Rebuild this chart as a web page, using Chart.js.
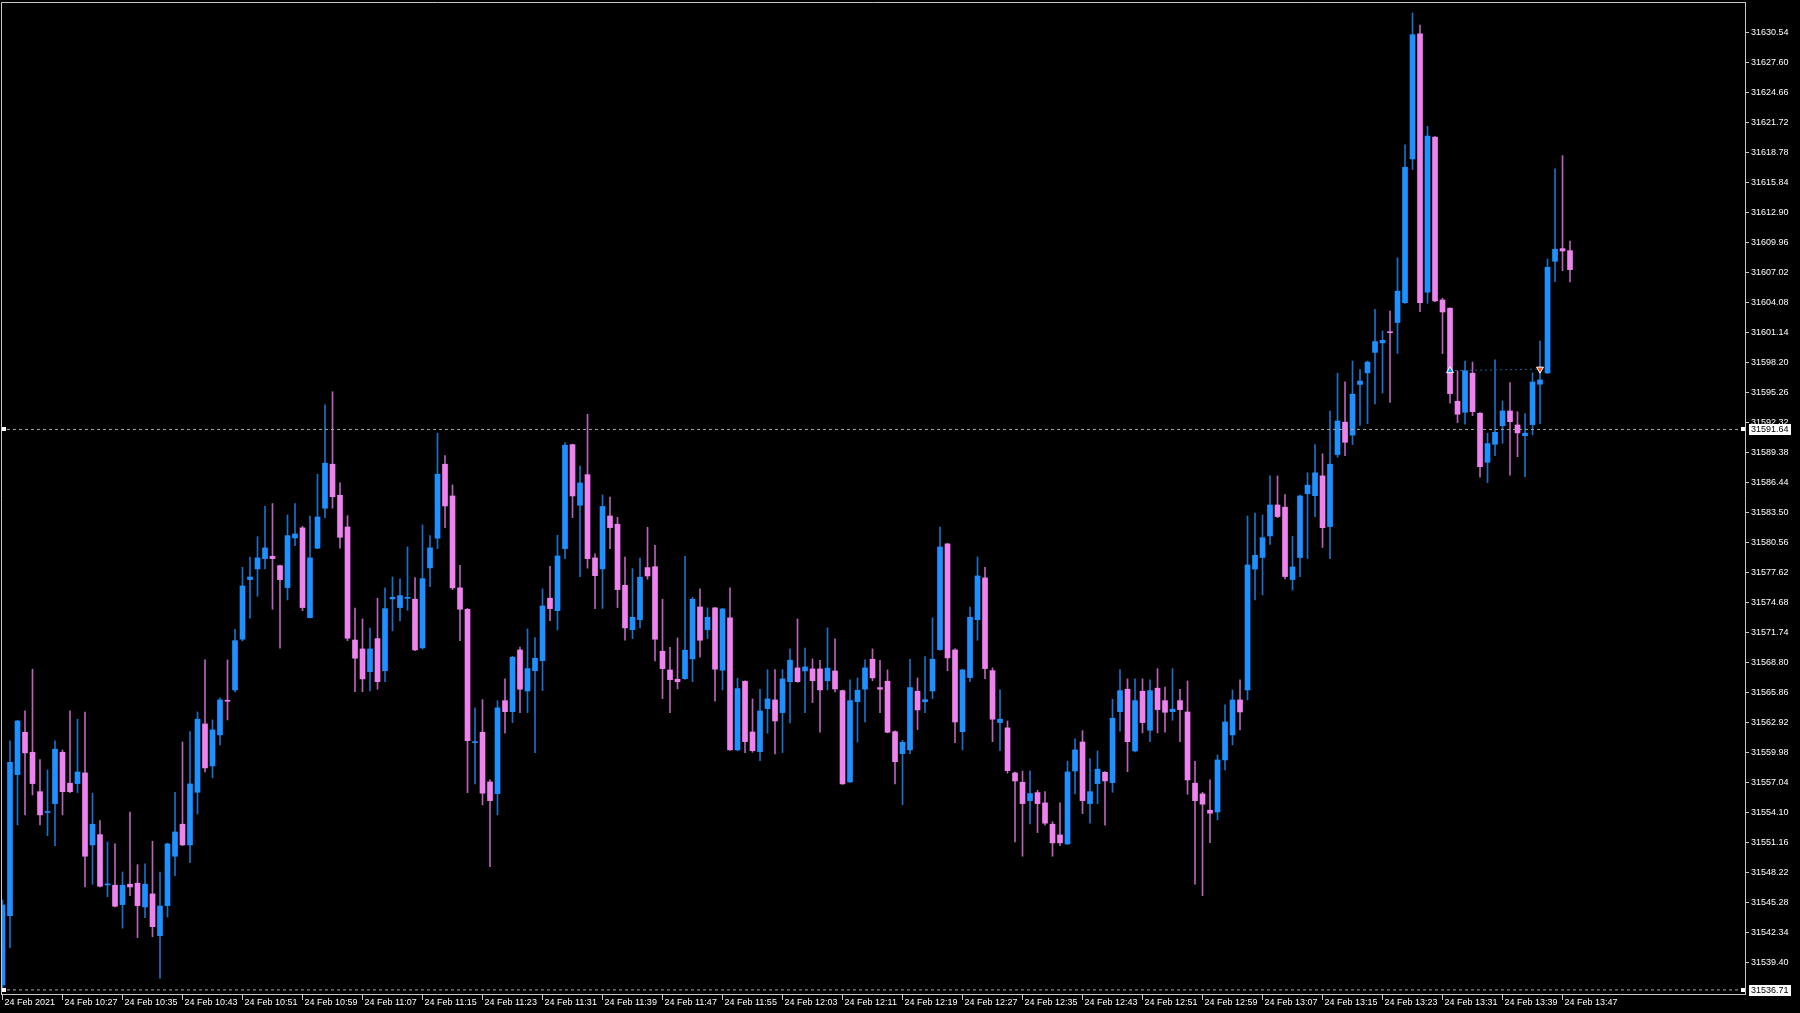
<!DOCTYPE html>
<html>
<head>
<meta charset="utf-8">
<script src="https://cdn.jsdelivr.net/npm/chart.js@4.4.1/dist/chart.umd.min.js"></script>
<style>
html, body { margin: 0; padding: 0; background: #000; overflow: hidden; }
</style>
</head>
<body>
<canvas id="chart" width="1800" height="1013"></canvas>
<script>
// 1-minute bars, 24 Feb 10:19 .. 13:48
const timeLabels = ['24 Feb 2021', '24 Feb 10:27', '24 Feb 10:35', '24 Feb 10:43', '24 Feb 10:51', '24 Feb 10:59',
    '24 Feb 11:07', '24 Feb 11:15', '24 Feb 11:23', '24 Feb 11:31', '24 Feb 11:39', '24 Feb 11:47', '24 Feb 11:55',
    '24 Feb 12:03', '24 Feb 12:11', '24 Feb 12:19', '24 Feb 12:27', '24 Feb 12:35', '24 Feb 12:43', '24 Feb 12:51',
    '24 Feb 12:59', '24 Feb 13:07', '24 Feb 13:15', '24 Feb 13:23', '24 Feb 13:31', '24 Feb 13:39', '24 Feb 13:47'];

const priceTicks = [31539.40, 31542.34, 31545.28, 31548.22, 31551.16, 31554.10, 31557.04, 31559.98, 31562.92,
    31565.86, 31568.80, 31571.74, 31574.68, 31577.62, 31580.56, 31583.50, 31586.44, 31589.38, 31592.32, 31595.26,
    31598.20, 31601.14, 31604.08, 31607.02, 31609.96, 31612.90, 31615.84, 31618.78, 31621.72, 31624.66, 31627.60, 31630.54];

const opens = [
    31537.20, 31543.99, 31557.81, 31561.96, 31560.00, 31556.14, 31554.10, 31554.97, 31560.00, 31556.97,
    31556.93, 31557.98, 31550.92, 31551.93, 31547.00, 31546.97, 31545.07, 31547.07, 31547.17, 31544.84,
    31546.12, 31542.03, 31544.97, 31549.81, 31552.95, 31550.92, 31556.08, 31562.78, 31558.66, 31561.70,
    31565.05, 31566.11, 31571.08, 31576.92, 31577.97, 31578.98, 31579.21, 31578.29, 31576.14, 31581.01,
    31581.99, 31573.20, 31580.00, 31583.92, 31588.23, 31585.19, 31582.08, 31571.00, 31570.13, 31567.90,
    31571.14, 31568.00, 31575.03, 31574.18, 31575.08, 31575.00, 31570.23, 31578.07, 31580.98, 31588.23,
    31585.12, 31576.11, 31574.02, 31560.95, 31561.96, 31557.09, 31555.95, 31565.06, 31563.98, 31570.03,
    31566.01, 31568.00, 31568.98, 31575.10, 31573.88, 31579.96, 31590.15, 31584.21, 31587.21, 31579.05,
    31577.97, 31583.16, 31582.35, 31576.37, 31572.02, 31573.00, 31578.10, 31578.19, 31569.90, 31568.07,
    31567.16, 31567.22, 31569.15, 31574.24, 31572.02, 31574.15, 31568.04, 31573.17, 31560.23, 31566.96,
    31561.99, 31560.06, 31564.28, 31565.13, 31563.89, 31566.92, 31568.27, 31567.97, 31568.17, 31568.17,
    31567.02, 31567.97, 31566.04, 31557.09, 31564.96, 31566.18, 31569.12, 31566.34, 31566.96, 31562.02,
    31559.87, 31560.23, 31565.98, 31564.96, 31566.01, 31570.06, 31580.42, 31570.03, 31562.02, 31567.32,
    31573.00, 31577.09, 31568.00, 31562.91, 31562.39, 31557.98, 31557.06, 31555.26, 31556.05, 31555.04,
    31552.95, 31551.90, 31551.02, 31558.17, 31561.01, 31554.97, 31556.93, 31558.04, 31557.03, 31563.98,
    31566.18, 31560.13, 31565.98, 31562.16, 31566.28, 31565.06, 31563.98, 31565.06, 31563.95, 31556.97,
    31555.92, 31554.32, 31554.15, 31559.25, 31561.70, 31565.13, 31566.11, 31577.95, 31579.09, 31581.20,
    31584.24, 31584.02, 31576.93, 31579.09, 31585.34, 31585.15, 31587.09, 31582.12, 31589.18, 31592.35,
    31591.08, 31596.05, 31597.19, 31599.19, 31600.12, 31601.20, 31602.12, 31604.07, 31618.15, 31630.40,
    31605.08, 31620.30, 31604.33, 31603.52, 31594.40, 31593.32, 31597.15, 31593.23, 31588.42, 31590.19,
    31592.01, 31593.45, 31592.08, 31591.03, 31592.11, 31596.07, 31597.18, 31608.12, 31609.36, 31609.16];

const highs = [
    31545.53, 31561.11, 31563.14, 31564.05, 31568.14, 31559.28, 31558.27, 31561.11, 31560.23, 31564.05,
    31563.24, 31563.95, 31555.99, 31553.30, 31551.21, 31551.02, 31548.27, 31554.15, 31548.99, 31549.06,
    31551.28, 31548.27, 31551.10, 31556.08, 31561.01, 31562.02, 31563.95, 31569.05, 31563.17, 31565.33,
    31569.05, 31572.06, 31578.13, 31579.14, 31581.13, 31584.11, 31584.37, 31578.35, 31583.26, 31584.37,
    31582.15, 31583.16, 31587.25, 31594.04, 31595.34, 31586.40, 31583.19, 31574.12, 31573.07, 31572.16,
    31575.10, 31576.11, 31577.18, 31576.99, 31580.12, 31577.12, 31582.28, 31581.23, 31591.27, 31589.07,
    31586.20, 31578.33, 31574.10, 31564.35, 31565.16, 31557.29, 31565.06, 31567.19, 31569.40, 31570.32,
    31572.09, 31571.24, 31576.01, 31578.23, 31581.27, 31590.35, 31590.20, 31588.06, 31593.13, 31579.44,
    31585.22, 31585.02, 31583.03, 31579.14, 31578.00, 31579.02, 31582.05, 31580.29, 31575.00, 31570.29,
    31571.21, 31579.21, 31575.19, 31576.01, 31574.15, 31574.20, 31574.10, 31576.11, 31567.26, 31567.00,
    31565.23, 31566.18, 31568.10, 31568.10, 31568.10, 31570.13, 31573.07, 31570.20, 31569.15, 31569.02,
    31572.19, 31571.11, 31566.10, 31567.09, 31567.29, 31569.05, 31570.13, 31569.02, 31568.07, 31562.10,
    31561.18, 31569.12, 31567.29, 31569.37, 31573.17, 31582.08, 31580.50, 31570.13, 31568.15, 31574.24,
    31579.14, 31578.13, 31568.27, 31566.11, 31563.07, 31558.07, 31558.17, 31558.17, 31556.28, 31556.14,
    31553.20, 31555.04, 31559.12, 31561.31, 31562.12, 31559.38, 31560.13, 31558.10, 31565.20, 31568.10,
    31567.19, 31567.19, 31567.19, 31567.09, 31568.20, 31566.40, 31568.20, 31566.18, 31566.99, 31559.12,
    31556.08, 31557.29, 31559.74, 31564.64, 31566.11, 31567.09, 31583.16, 31583.44, 31583.25, 31587.09,
    31587.09, 31585.26, 31581.17, 31585.20, 31587.39, 31590.16, 31589.25, 31593.45, 31597.15, 31596.30,
    31598.35, 31597.51, 31598.35, 31603.40, 31601.28, 31603.25, 31608.45, 31619.52, 31632.46, 31631.28,
    31621.35, 31620.35, 31604.50, 31603.55, 31597.37, 31598.35, 31598.25, 31593.30, 31591.27, 31598.45,
    31594.43, 31596.23, 31593.38, 31593.19, 31597.18, 31600.31, 31608.35, 31617.17, 31618.47, 31610.11];

const lows = [
    31536.91, 31540.86, 31552.88, 31553.86, 31555.82, 31552.88, 31551.83, 31550.85, 31553.86, 31556.05,
    31556.05, 31546.80, 31547.07, 31546.80, 31545.85, 31544.84, 31542.76, 31545.95, 31541.84, 31543.80,
    31541.93, 31537.86, 31543.86, 31547.91, 31550.85, 31549.19, 31553.96, 31558.07, 31557.49, 31560.72,
    31563.17, 31565.91, 31570.91, 31573.14, 31575.29, 31577.97, 31574.02, 31570.20, 31574.93, 31580.25,
    31573.88, 31573.15, 31579.95, 31583.00, 31583.92, 31580.00, 31570.94, 31565.94, 31565.94, 31566.01,
    31566.18, 31566.92, 31571.89, 31572.87, 31573.92, 31569.96, 31570.10, 31576.23, 31579.96, 31582.02,
    31575.94, 31570.94, 31556.05, 31556.90, 31554.84, 31548.79, 31553.86, 31561.87, 31562.91, 31563.89,
    31563.89, 31559.97, 31566.04, 31572.90, 31571.99, 31578.98, 31583.00, 31577.21, 31578.04, 31574.08,
    31574.10, 31579.96, 31574.18, 31570.98, 31571.14, 31572.19, 31576.96, 31568.95, 31565.26, 31563.89,
    31566.21, 31567.15, 31566.92, 31569.31, 31571.14, 31565.00, 31566.11, 31560.20, 31560.15, 31559.97,
    31560.00, 31559.18, 31561.87, 31559.84, 31559.97, 31562.88, 31566.85, 31563.89, 31564.87, 31561.96,
    31566.11, 31565.91, 31556.85, 31557.05, 31561.01, 31562.97, 31567.02, 31563.89, 31561.90, 31556.90,
    31554.87, 31559.87, 31562.22, 31563.89, 31565.26, 31570.00, 31568.00, 31560.95, 31560.23, 31566.92,
    31570.98, 31567.22, 31561.04, 31560.16, 31557.95, 31551.21, 31549.81, 31552.98, 31552.13, 31552.85,
    31549.81, 31550.85, 31550.95, 31555.92, 31553.99, 31553.05, 31554.97, 31552.85, 31556.08, 31562.06,
    31558.10, 31560.03, 31561.90, 31561.04, 31561.90, 31561.96, 31563.14, 31561.04, 31555.89, 31547.07,
    31545.95, 31551.15, 31553.37, 31558.27, 31560.72, 31562.19, 31565.13, 31574.93, 31575.42, 31580.37,
    31582.99, 31577.00, 31575.91, 31577.22, 31578.98, 31583.10, 31580.07, 31578.98, 31588.92, 31589.07,
    31590.16, 31592.03, 31592.21, 31594.15, 31595.21, 31594.29, 31599.09, 31604.00, 31617.10, 31603.18,
    31604.00, 31604.16, 31599.07, 31594.21, 31592.31, 31592.15, 31592.99, 31586.95, 31586.43, 31589.07,
    31590.29, 31587.15, 31588.97, 31587.01, 31591.10, 31592.21, 31597.11, 31606.12, 31607.20, 31606.09];

const closes = [
    31545.04, 31559.02, 31563.07, 31559.94, 31556.93, 31553.86, 31554.15, 31560.30, 31556.14, 31556.14,
    31558.07, 31549.81, 31552.95, 31546.87, 31547.05, 31544.91, 31546.97, 31546.80, 31544.97, 31547.07,
    31542.91, 31544.94, 31551.02, 31552.19, 31550.92, 31556.90, 31563.24, 31558.47, 31562.19, 31565.13,
    31565.00, 31570.94, 31576.30, 31577.18, 31579.05, 31580.03, 31578.98, 31576.92, 31581.23, 31581.40,
    31574.18, 31579.05, 31583.06, 31588.33, 31585.05, 31581.07, 31571.18, 31569.22, 31567.19, 31570.13,
    31566.92, 31574.08, 31575.19, 31575.35, 31575.12, 31570.03, 31577.02, 31580.03, 31587.25, 31584.14,
    31576.11, 31574.02, 31561.14, 31561.00, 31555.99, 31555.26, 31564.35, 31563.98, 31569.31, 31566.18,
    31568.20, 31569.22, 31574.34, 31574.08, 31579.24, 31590.09, 31585.12, 31586.40, 31578.98, 31577.31,
    31584.09, 31582.02, 31575.94, 31572.19, 31573.23, 31577.15, 31577.28, 31571.08, 31568.20, 31567.12,
    31566.92, 31570.00, 31575.00, 31570.98, 31573.23, 31568.14, 31574.05, 31560.23, 31566.24, 31561.04,
    31560.16, 31564.05, 31565.23, 31563.07, 31567.19, 31569.02, 31566.92, 31568.36, 31567.02, 31566.11,
    31568.24, 31566.21, 31556.90, 31565.06, 31566.08, 31568.27, 31567.29, 31566.18, 31561.96, 31559.08,
    31560.98, 31566.34, 31564.15, 31565.16, 31569.12, 31580.12, 31569.25, 31562.97, 31568.07, 31573.23,
    31577.28, 31568.20, 31563.24, 31563.24, 31558.20, 31557.19, 31554.97, 31555.95, 31554.97, 31553.05,
    31551.12, 31551.12, 31558.07, 31560.23, 31555.26, 31556.14, 31558.34, 31557.19, 31563.34, 31566.04,
    31561.04, 31565.06, 31562.91, 31566.04, 31564.18, 31563.92, 31564.22, 31564.18, 31557.29, 31555.26,
    31554.91, 31554.03, 31559.25, 31562.97, 31565.13, 31563.95, 31578.36, 31579.30, 31581.03, 31584.24,
    31583.10, 31577.22, 31578.16, 31585.12, 31586.18, 31587.39, 31582.01, 31588.23, 31592.47, 31590.38,
    31595.10, 31596.38, 31598.24, 31600.25, 31600.37, 31601.12, 31605.19, 31617.33, 31630.33, 31604.07,
    31620.40, 31604.23, 31603.15, 31595.15, 31593.13, 31597.40, 31593.38, 31587.99, 31590.25, 31591.36,
    31593.45, 31592.40, 31591.30, 31591.27, 31596.29, 31596.49, 31607.53, 31609.30, 31609.13, 31607.30];

// horizontal price lines
const hLines = [31591.64, 31536.71];

// closed trade: open/close bar index and price
const tradeBars = [193, 205];
const tradePrices = [31597.40, 31597.55];

const UP = '#1e90ff', DOWN = '#ee82ee';
const UP_WICK = '#1a70c8', DOWN_WICK = '#b862b8';
const FONT = { family: '"Liberation Sans", Arial, sans-serif', size: 9 };
const X_MIN = -0.2, X_MAX = 232.33;

const isUp = opens.map((o, i) => closes[i] >= o);
const bodies = opens.map((o, i) => ({ x: i, y: [o, closes[i]] }));
const wicks = lows.map((l, i) => ({ x: i, y: [l, highs[i]] }));

const chartFrame = {
    id: 'chartFrame',
    beforeDraw(chart) {
        const ctx = chart.ctx;
        ctx.save();
        ctx.fillStyle = '#000';
        ctx.fillRect(0, 0, chart.width, chart.height);
        ctx.restore();
    },
    afterDraw(chart) {
        const { ctx, chartArea: a } = chart;
        const y = chart.scales.y;
        ctx.save();
        ctx.strokeStyle = '#c8c8c8';
        ctx.lineWidth = 1;
        ctx.beginPath();
        ctx.moveTo(a.left + 0.5, a.bottom);
        ctx.lineTo(a.left + 0.5, a.top + 0.5);
        ctx.lineTo(a.right, a.top + 0.5);
        ctx.stroke();

        // price labels of the horizontal lines
        ctx.font = '9px ' + FONT.family;
        ctx.textBaseline = 'middle';
        hLines.forEach(v => {
            const py = Math.round(y.getPixelForValue(v));
            ctx.fillStyle = '#fff';
            ctx.fillRect(a.right + 4, py - 5, 42, 11);
            ctx.fillStyle = '#000';
            ctx.fillText(v.toFixed(2), a.right + 6, py + 0.5);
            ctx.fillStyle = '#fff';
            ctx.fillRect(a.right - 4, py - 2, 4, 4);
            ctx.fillRect(a.left + 1, py - 2, 4, 4);
        });
        ctx.restore();
    }
};

new Chart(document.getElementById('chart').getContext('2d'), {
    type: 'bar',
    data: {
        datasets: [
            {
                type: 'line',
                data: [{ x: X_MIN, y: hLines[0] }, { x: X_MAX, y: hLines[0] }],
                borderColor: '#a8a8a8',
                borderWidth: 1,
                borderDash: [3, 3],
                pointRadius: 0,
                order: 0
            },
            {
                type: 'line',
                data: [{ x: X_MIN, y: hLines[1] }, { x: X_MAX, y: hLines[1] }],
                borderColor: '#a8a8a8',
                borderWidth: 1,
                borderDash: [3, 3],
                pointRadius: 0,
                order: 0
            },
            {
                type: 'line',
                data: tradeBars.map((b, k) => ({ x: b, y: tradePrices[k] })),
                borderColor: '#1d5a96',
                borderWidth: 1,
                borderDash: [2, 3],
                pointStyle: 'triangle',
                pointRadius: 4,
                pointRotation: [0, 180],
                pointBackgroundColor: [UP, '#ff4a1a'],
                pointBorderColor: '#fff',
                pointBorderWidth: 1,
                order: 0
            },
            {
                label: 'bodies',
                data: bodies,
                backgroundColor: isUp.map(u => u ? UP : DOWN),
                borderWidth: 0,
                barThickness: 5,
                minBarLength: 1,
                grouped: false,
                order: 1
            },
            {
                label: 'wicks',
                data: wicks,
                backgroundColor: isUp.map(u => u ? UP_WICK : DOWN_WICK),
                borderWidth: 0,
                barThickness: 1,
                grouped: false,
                order: 2
            }
        ]
    },
    options: {
        responsive: false,
        animation: false,
        layout: { autoPadding: false, padding: { left: 1, top: 2, right: 0, bottom: 0 } },
        plugins: {
            legend: { display: false },
            tooltip: { enabled: false }
        },
        scales: {
            x: {
                type: 'linear',
                min: X_MIN,
                max: X_MAX,
                offset: false,
                afterBuildTicks: s => { s.ticks = timeLabels.map((t, k) => ({ value: k * 8 })); },
                afterFit: s => { s.height = 19; s.paddingLeft = 0; s.paddingRight = 0; },
                grid: { offset: false, drawOnChartArea: false, tickLength: 6, tickColor: '#c8c8c8' },
                border: { color: '#c8c8c8' },
                ticks: {
                    color: '#ffffff',
                    font: FONT,
                    align: 'start',
                    labelOffset: 2,
                    padding: -3,
                    maxRotation: 0,
                    autoSkip: false,
                    callback: v => timeLabels[Math.round(v / 8)]
                }
            },
            y: {
                type: 'linear',
                position: 'right',
                min: 31536.31,
                max: 31633.53,
                beginAtZero: false,
                afterBuildTicks: s => { s.ticks = priceTicks.map(v => ({ value: v })); },
                afterFit: s => { s.width = 55; s.paddingTop = 0; s.paddingBottom = 0; },
                grid: { drawOnChartArea: false, tickLength: 4, tickColor: '#c8c8c8' },
                border: { color: '#c8c8c8' },
                ticks: {
                    color: '#ffffff',
                    font: FONT,
                    padding: 2,
                    autoSkip: false,
                    callback: v => v.toFixed(2)
                }
            }
        }
    },
    plugins: [chartFrame]
});
</script>
</body>
</html>
